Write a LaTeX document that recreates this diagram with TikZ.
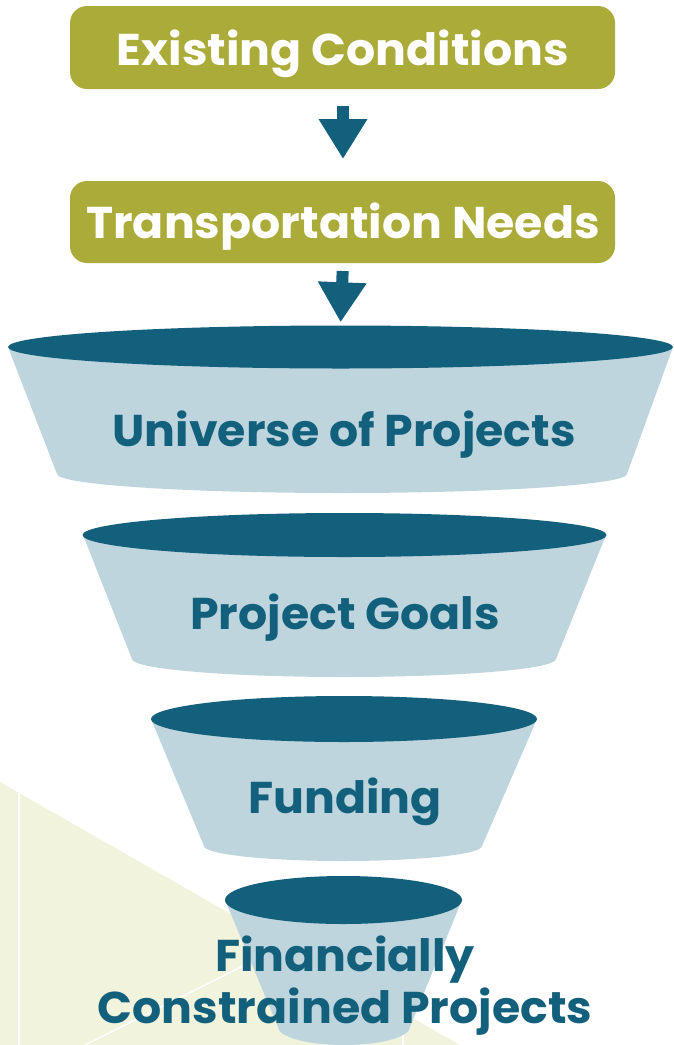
\documentclass[tikz,border=0pt]{standalone}
\usepackage{fontspec}
\setmainfont{Poppins}
\usetikzlibrary{shapes.geometric,arrows.meta}
\definecolor{olive}{HTML}{AAAB38}
\definecolor{teal}{HTML}{13607D}
\definecolor{paleblue}{HTML}{BED5DE}
\definecolor{bgpale}{HTML}{F2F3DC}
\tikzset{
  topbox/.style={rounded corners=17pt, fill=olive},
  boxtext/.style={text=white, font=\bfseries\fontsize{44.5}{48}\selectfont, anchor=base, inner sep=0pt, xscale=1.03, transform shape},
  funtext/.style={text=teal, font=\bfseries\fontsize{44.5}{48}\selectfont, anchor=base, inner sep=0pt, xscale=1.03, transform shape},
  rim/.style={ellipse, fill=teal, inner sep=0pt},
  body/.style={fill=paleblue},
  flowarrow/.style={draw=teal, line width=12pt, -{Triangle[width=46pt,length=40pt]}},
  bgline/.style={draw=white, line width=1.5pt}
}
\begin{document}
\begin{tikzpicture}[x=1pt,y=1pt]
\useasboundingbox (0,0) rectangle (673,-1045);
\clip (0,0) rectangle (673,-1045);
% background
\fill[bgpale] (0,-782) -- (0,-1045) -- (460,-1045) -- cycle;
\draw[bgline] (19,-793) -- (19,-1045);
\draw[bgline] (85,-1045) -- (285,-945);
\draw[bgline] (403,-1012) -- (403,-1045);
% boxes
\fill[topbox] (70,-6) rectangle (615,-89);
\node[boxtext] (t1) at (343,-65) {Existing Conditions};
\fill[topbox] (70,-181) rectangle (615,-263);
\node[boxtext] (t2) at (343,-238) {Transportation Needs};
\coordinate (b1s) at (343,-89);
\coordinate (b2n) at (343,-181);
\coordinate (b2s) at (343,-263);
% funnel 1
\fill[body] (8,-347) -- (57,-474) arc[start angle=180,end angle=360,x radius=285,y radius=19] -- (673,-347) -- cycle;
\node[rim, minimum width=665pt, minimum height=43pt] (e1) at (340.5,-347) {};
\node[funtext] (u) at (344,-446) {Universe of Projects};
% funnel 2
\fill[body] (83,-535) -- (132,-659) arc[start angle=180,end angle=360,x radius=212,y radius=18] -- (606,-535) -- cycle;
\node[rim, minimum width=524pt, minimum height=44pt] (e2) at (344.5,-535) {};
\node[funtext] (g) at (345,-629) {Project Goals};
% funnel 3
\fill[body] (151,-719) -- (204,-846) arc[start angle=180,end angle=360,x radius=139,y radius=15] -- (537,-719) -- cycle;
\node[rim, minimum width=386pt, minimum height=46pt] (e3) at (344,-719) {};
\node[funtext] (f) at (345,-813) {Funding};
% funnel 4
\fill[body] (225,-900) -- (278,-1027) arc[start angle=180,end angle=360,x radius=66,y radius=18] -- (462,-900) -- cycle;
\node[rim, minimum width=237pt, minimum height=48pt] (e4) at (343.5,-900) {};
\node[funtext] (c1) at (345,-971) {Financially};
\node[funtext] (c2) at (345,-1023) {Constrained Projects};
% arrows
\draw[flowarrow, shorten <=17pt, shorten >=22pt] (b1s) -- (b2n);
\draw[flowarrow, shorten <=8pt, shorten >=3pt] (b2s) -- (e1.north);
\end{tikzpicture}
\end{document}
